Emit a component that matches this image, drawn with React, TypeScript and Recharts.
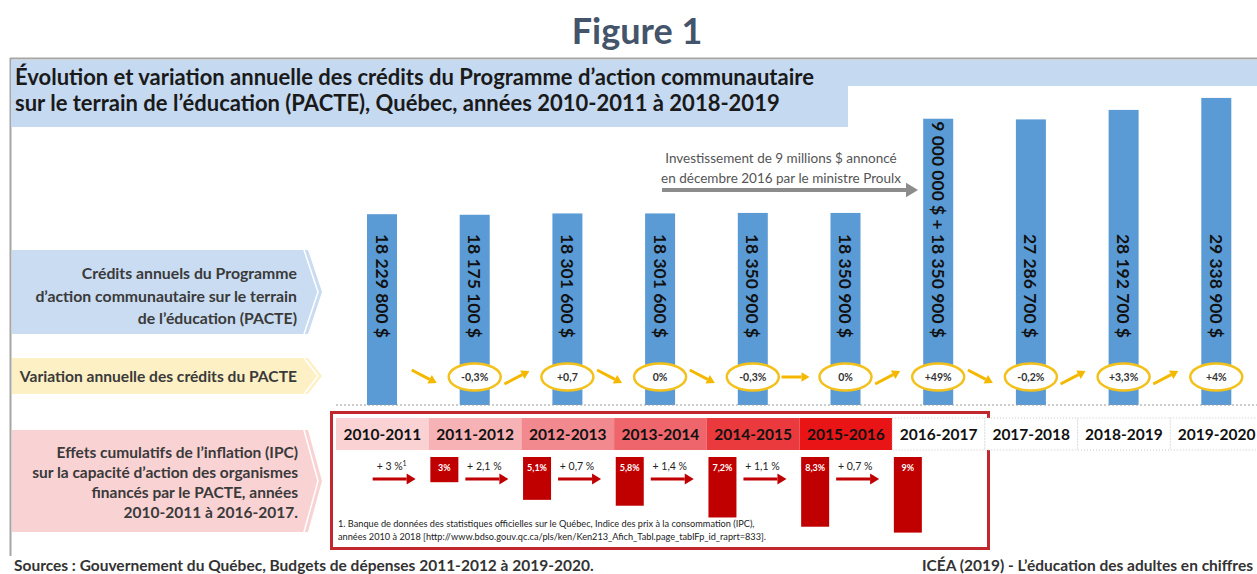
import { BarChart, Bar, XAxis, YAxis } from 'recharts';

const categories = ['2010-2011', '2011-2012', '2012-2013', '2013-2014', '2014-2015', '2015-2016', '2016-2017', '2017-2018', '2018-2019', '2019-2020'];
const credits = [18229800, 18175100, 18301600, 18301600, 18350900, 18350900, 27350900, 27286700, 28192700, 29338900];
const creditLabels = ['18 229 800 $', '18 175 100 $', '18 301 600 $', '18 301 600 $', '18 350 900 $', '18 350 900 $', '9 000 000 $ + 18 350 900 $', '27 286 700 $', '28 192 700 $', '29 338 900 $'];
const variationLabels = ['', '-0,3%', '+0,7', '0%', '-0,3%', '0%', '+49%', '-0,2%', '+3,3%', '+4%'];
const variationTrend = ['', 'down', 'up', 'down', 'down', 'flat', 'up', 'down', 'up', 'up'];
const yearFills = ['#fad2d3', '#f6b2b5', '#f2898e', '#ee656b', '#ea3a3d', '#e81416', '#ffffff', '#ffffff', '#ffffff', '#ffffff'];
const inflationLabels = ['+ 3 %', '+ 2,1 %', '+ 0,7 %', '+ 1,4 %', '+ 1,1 %', '+ 0,7 %', '', '', '', ''];
const cumulativeInflation = [0, 3, 5.1, 5.8, 7.2, 8.3, 9, 0, 0, 0];
const cumulativeLabels = ['', '3%', '5,1%', '5,8%', '7,2%', '8,3%', '9%', '', '', ''];

const FONT = "Lato, 'Open Sans', sans-serif";
const CHART_W = 927;
const BAND = CHART_W / categories.length;

const creditsData = categories.map((cat, i) => ({
  cat,
  credits: credits[i],
  label: creditLabels[i],
  variation: variationLabels[i],
  trend: variationTrend[i],
}));

const inflationData = categories.map((cat, i) => ({
  cat,
  cumulative: cumulativeInflation[i],
  cumLabel: cumulativeLabels[i],
  annual: inflationLabels[i],
}));

function arrow(x1: number, y1: number, x2: number, y2: number, color: string, w: number, head: number) {
  const a = Math.atan2(y2 - y1, x2 - x1);
  const bx = x2 - Math.cos(a) * head;
  const by = y2 - Math.sin(a) * head;
  const px = Math.sin(a) * head * 0.6;
  const py = -Math.cos(a) * head * 0.6;
  return (
    <g>
      <line x1={x1} y1={y1} x2={bx} y2={by} stroke={color} strokeWidth={w} />
      <polygon points={`${x2},${y2} ${bx + px},${by + py} ${bx - px},${by - py}`} fill={color} />
    </g>
  );
}

function CreditBar(props: any) {
  const { x, y, width, height, payload } = props;
  const base = y + height;
  const cx = x + width / 2;
  const cy = base - 28;
  let arr = null;
  if (payload.trend === 'down') arr = arrow(cx - 63, cy - 7, cx - 38, cy + 6, '#f5b800', 3, 8);
  if (payload.trend === 'up') arr = arrow(cx - 63, cy + 7, cx - 38, cy - 6, '#f5b800', 3, 8);
  if (payload.trend === 'flat') arr = arrow(cx - 64, cy, cx - 36, cy, '#f5b800', 3, 8);
  return (
    <g>
      <rect x={x} y={y} width={width} height={height} fill="#5b9bd5" />
      <text
        transform={`translate(${cx},${base - 67}) rotate(90)`}
        textAnchor="end"
        dominantBaseline="central"
        fontFamily={FONT}
        fontWeight={700}
        fontSize={17.5}
        fill="#111"
      >
        {payload.label}
      </text>
      {payload.variation && (
        <g>
          {arr}
          <ellipse cx={cx} cy={cy} rx={26} ry={13.5} fill="#fff" stroke="#f3c11b" strokeWidth={2.5} />
          <text x={cx} y={cy} textAnchor="middle" dominantBaseline="central" fontFamily={FONT} fontSize={10.5} fontWeight={700} fill="#333">
            {payload.variation}
          </text>
        </g>
      )}
    </g>
  );
}

function YearTick(props: any) {
  const { x, y, payload, index } = props;
  const fill = yearFills[index];
  const white = fill === '#ffffff';
  return (
    <g>
      <rect
        x={x - BAND / 2}
        y={y + 13}
        width={BAND}
        height={32}
        fill={fill}
        stroke={white ? '#c8c8c8' : 'none'}
        strokeDasharray="1 2"
      />
      <text x={x} y={y + 29} textAnchor="middle" dominantBaseline="central" fontFamily={FONT} fontWeight={700} fontSize={15.5} fill="#111">
        {payload.value}
      </text>
    </g>
  );
}

function InflationBar(props: any) {
  const { x, y, width, height, payload } = props;
  const top = Math.min(y, y + height);
  const h = Math.abs(height);
  const bandStart = x + width / 2 - BAND / 2;
  const bx = bandStart + 2;
  return (
    <g>
      {h > 0 && <rect x={bx} y={top} width={width} height={h} fill="#c00000" />}
      {payload.cumLabel && (
        <text x={bx + width / 2} y={top + 10} textAnchor="middle" dominantBaseline="central" fontFamily={FONT} fontSize={9} fontWeight={700} fill="#fff">
          {payload.cumLabel}
        </text>
      )}
      {payload.annual && (
        <g>
          {arrow(bandStart + 37, top + 22, bandStart + 80, top + 22, '#c00000', 3, 9)}
          <text x={bandStart + 56} y={top + 13} textAnchor="middle" fontFamily={FONT} fontSize={10.5} fill="#222">
            {payload.annual}
            {payload.cat === categories[0] && <tspan dy={-4} fontSize={7}>1</tspan>}
          </text>
        </g>
      )}
    </g>
  );
}

function Background() {
  const chevron = (y1: number, y2: number, fill: string) => {
    const mid = (y1 + y2) / 2;
    return (
      <g>
        <polygon points={`12,${y1} 308,${y1} 322,${mid} 308,${y2} 12,${y2}`} fill={fill} />
        <polyline points={`304,${y1} 318,${mid} 304,${y2}`} fill="none" stroke="#fff" strokeWidth={1.5} />
      </g>
    );
  };
  const txt = { fontFamily: FONT, fontWeight: 700, fill: '#3a3a3a' } as const;
  return (
    <svg width={1257} height={574} style={{ position: 'absolute', left: 0, top: 0 }}>
      <text x={637} y={44} textAnchor="middle" fontFamily={FONT} fontWeight={700} fontSize={36} fill="#44546a">
        Figure 1
      </text>
      <line x1={10} y1={58.5} x2={1257} y2={58.5} stroke="#a6a6a6" strokeWidth={2} />
      <line x1={10.5} y1={58} x2={10.5} y2={556} stroke="#a6a6a6" strokeWidth={2} />
      <polygon points="11,60 1257,60 1257,86 848,86 848,127 11,127" fill="#c5d9f1" />
      <text x={15} y={85} fontFamily={FONT} fontWeight={700} fontSize={22} fill="#1a1a1a">
        Évolution et variation annuelle des crédits du Programme d’action communautaire
      </text>
      <text x={15} y={111} fontFamily={FONT} fontWeight={700} fontSize={22} fill="#1a1a1a">
        sur le terrain de l’éducation (PACTE), Québec, années 2010-2011 à 2018-2019
      </text>

      {chevron(250, 334, '#c9dcf1')}
      <text {...txt} fontSize={15.8} textAnchor="end">
        <tspan x={297} y={279}>Crédits annuels du Programme</tspan>
        <tspan x={297} y={302}>d’action communautaire sur le terrain</tspan>
        <tspan x={297} y={324}>de l’éducation (PACTE)</tspan>
      </text>
      {chevron(358, 394, '#fdf0c4')}
      <text {...txt} fontSize={15.6} textAnchor="end" x={297} y={382}>
        Variation annuelle des crédits du PACTE
      </text>
      {chevron(430, 532, '#f9d3d4')}
      <text {...txt} fontSize={15.5} textAnchor="end">
        <tspan x={298} y={458}>Effets cumulatifs de l’inflation (IPC)</tspan>
        <tspan x={298} y={478}>sur la capacité d’action des organismes</tspan>
        <tspan x={298} y={498}>financés par le PACTE, années</tspan>
        <tspan x={298} y={518}>2010-2011 à 2016-2017.</tspan>
      </text>

      <text fontFamily={FONT} fontSize={13.5} fill="#555" textAnchor="middle">
        <tspan x={781} y={163}>Investissement de 9 millions $ annoncé</tspan>
        <tspan x={781} y={183}>en décembre 2016 par le ministre Proulx</tspan>
      </text>
      {arrow(662, 190, 918, 190, '#8c8c8c', 4, 12)}

      <rect x={331.5} y={412.5} width={657} height={136} fill="none" stroke="#c0282d" strokeWidth={3} />
      <text fontFamily={FONT} fontSize={9.2} fill="#222">
        <tspan x={338} y={527}>1. Banque de données des statistiques officielles sur le Québec, Indice des prix à la consommation (IPC),</tspan>
        <tspan x={338} y={540}>années 2010 à 2018  [http://www.bdso.gouv.qc.ca/pls/ken/Ken213_Afich_Tabl.page_tablFp_id_raprt=833].</tspan>
      </text>

      <text x={14} y={571} fontFamily={FONT} fontWeight={700} fontSize={15.5} fill="#333">
        Sources : Gouvernement du Québec, Budgets de dépenses 2011-2012 à 2019-2020.
      </text>
      <text x={922} y={571} fontFamily={FONT} fontWeight={700} fontSize={15.5} fill="#333">
        ICÉA (2019) - L’éducation des adultes en chiffres
      </text>
    </svg>
  );
}

export default function App() {
  return (
    <div style={{ position: 'absolute', left: 0, top: 0, width: 1257, height: 574, overflow: 'hidden', background: '#fff' }}>
      <Background />
      <div style={{ position: 'absolute', left: 336, top: 91 }}>
        <BarChart width={CHART_W} height={364} data={creditsData} margin={{ top: 0, right: 0, bottom: 0, left: 0 }}>
          <XAxis
            dataKey="cat"
            height={50}
            interval={0}
            tickLine={false}
            tickSize={0}
            tickMargin={0}
            axisLine={{ stroke: '#9a9a9a', strokeDasharray: '2 2' }}
            tick={<YearTick />}
          />
          <YAxis hide domain={[0, 30000000]} />
          <Bar dataKey="credits" barSize={30} isAnimationActive={false} shape={<CreditBar />} />
        </BarChart>
      </div>
      <div style={{ position: 'absolute', left: 336, top: 457 }}>
        <BarChart width={CHART_W} height={84} data={inflationData} margin={{ top: 0, right: 0, bottom: 0, left: 0 }}>
          <XAxis dataKey="cat" hide />
          <YAxis hide reversed domain={[0, 10]} />
          <Bar dataKey="cumulative" barSize={28} isAnimationActive={false} shape={<InflationBar />} />
        </BarChart>
      </div>
    </div>
  );
}
